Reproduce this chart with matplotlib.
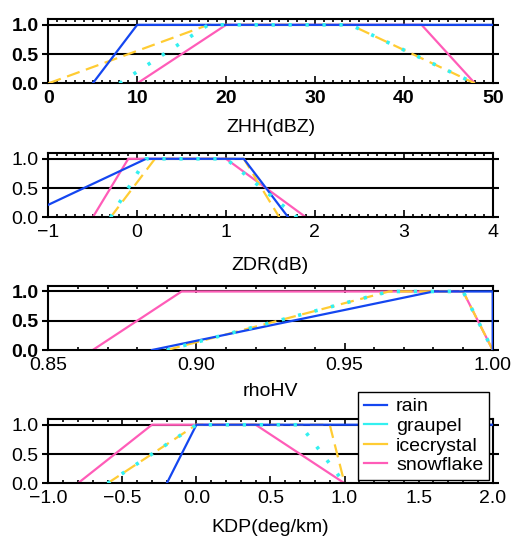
import matplotlib
matplotlib.use('Agg')
import matplotlib.pyplot as plt
from matplotlib.lines import Line2D
from matplotlib.ticker import MultipleLocator

plt.rcParams['font.family'] = ['Liberation Sans', 'DejaVu Sans']
plt.rcParams['font.size'] = 14

# trapezoid membership functions: breakpoints x1..x4, membership 0,1,1,0
memb = [0, 1, 1, 0]
classes = ['rain', 'graupel', 'icecrystal', 'snowflake']

zhh = {
    'rain': [5, 10, 55, 60],
    'graupel': [8, 18, 34, 48],
    'icecrystal': [0, 18, 34, 48],
    'snowflake': [10, 20, 42, 48],
}
zdr = {
    'rain': [-1.3, 0.1, 1.2, 1.7],
    'graupel': [-0.3, 0.1, 1.0, 1.8],
    'icecrystal': [-0.3, 0.2, 1.2, 1.6],
    'snowflake': [-0.5, -0.1, 1.0, 1.9],
}
rhohv = {
    'rain': [0.885, 0.98, 1.0, 1.0],
    'graupel': [0.89, 0.965, 0.99, 1.0],
    'icecrystal': [0.89, 0.965, 0.99, 1.0],
    'snowflake': [0.865, 0.895, 0.99, 1.0],
}
kdp = {
    'rain': [-0.2, 0.0, 2.5, 3.0],
    'graupel': [-0.6, 0.0, 0.7, 1.0],
    'icecrystal': [-0.6, 0.0, 0.9, 1.0],
    'snowflake': [-0.8, -0.3, 0.4, 1.0],
}

colors = {'rain': '#1446f0', 'graupel': '#33f0f0',
          'icecrystal': '#ffcc33', 'snowflake': '#ff5cb8'}
zorders = {'rain': 4, 'graupel': 5, 'icecrystal': 3, 'snowflake': 2}

panels = [
    # data, xlim, major, minor, xlabel, bold x, bold y, bottom, label offset
    (zhh, (0, 50), 10, 1, 'ZHH(dBZ)', True, True, 0.845, -0.68),
    (zdr, (-1, 4), 1, 0.1, 'ZDR(dB)', False, False, 0.596, -0.74),
    (rhohv, (0.85, 1.0), 0.05, 0.01, 'rhoHV', False, True, 0.3494, -0.65),
    (kdp, (-1, 2), 0.5, 0.1, 'KDP(deg/km)', False, False, 0.1017, -0.68),
]

fig = plt.figure(figsize=(5.12, 5.38), dpi=100)

for data, xlim, major, minor, xlabel, bx, by, bottom, loff in panels:
    ax = fig.add_axes([0.0943, bottom, 0.868, 0.1197])
    for c in classes:
        kw = dict(color=colors[c], lw=1.6, zorder=zorders[c], clip_on=True)
        if c == 'graupel':
            kw['dashes'] = (0.9, 3.8)
            kw['dash_capstyle'] = 'butt'
            kw['lw'] = 2.6
        elif c == 'icecrystal':
            kw['dashes'] = (6, 3)
        ax.plot(data[c], memb, **kw)
    for yv in (0.5, 1.0):
        ax.axhline(yv, color='black', lw=1.5, zorder=1)
    ax.set_xlim(*xlim)
    ax.set_ylim(0, 1.1)
    ax.xaxis.set_major_locator(MultipleLocator(major))
    ax.xaxis.set_minor_locator(MultipleLocator(minor))
    ax.set_yticks([0, 0.5, 1.0])
    ax.set_yticklabels(['0.0', '0.5', '1.0'], fontweight='bold' if by else 'normal')
    if xlabel == 'rhoHV':
        ax.set_xticks([0.85, 0.90, 0.95, 1.00])
        ax.set_xticklabels(['0.85', '0.90', '0.95', '1.00'])
    elif xlabel == 'KDP(deg/km)':
        ticks = [-1.0, -0.5, 0.0, 0.5, 1.0, 1.5, 2.0]
        ax.set_xticks(ticks)
        ax.set_xticklabels([('%.1f' % t).replace('-', '\u2212') for t in ticks])
    if bx:
        for lab in ax.get_xticklabels():
            lab.set_fontweight('bold')
    ax.tick_params(axis='x', which='both', direction='in', top=True, bottom=True,
                   width=1.2, pad=5)
    ax.tick_params(axis='x', which='major', length=5)
    ax.tick_params(axis='x', which='minor', length=2.5)
    ax.tick_params(axis='y', which='both', direction='out', left=True, right=True,
                   length=4.5, width=1.5, pad=2.5)
    for sp in ax.spines.values():
        sp.set_linewidth(1.5)
    ax.set_xlabel(xlabel, va='center')
    ax.xaxis.set_label_coords(0.5, loff)

handles = [Line2D([], [], color=colors[c], lw=1.6) for c in classes]
leg = fig.legend(handles, classes, loc='upper left',
                 bbox_to_anchor=(358 / 512, 1 - 392 / 538),
                 frameon=True, fancybox=False, edgecolor='black',
                 framealpha=1, borderpad=0.3, labelspacing=0.1,
                 handlelength=1.2, handletextpad=0.45, borderaxespad=0)
leg.get_frame().set_linewidth(1.0)
leg.set_zorder(10)

fig.savefig('out.png', dpi=100)
